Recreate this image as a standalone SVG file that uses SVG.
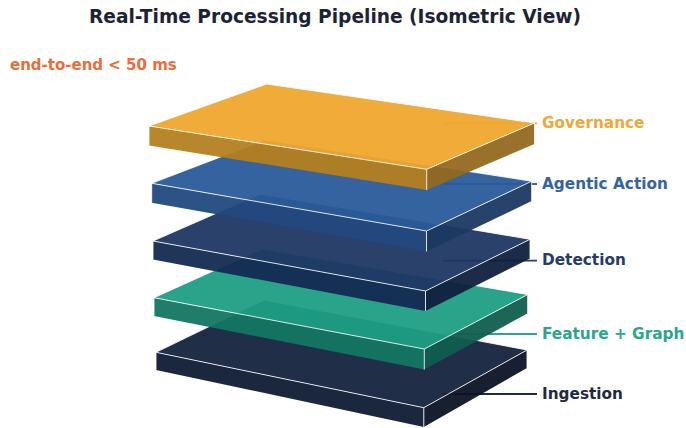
<svg xmlns="http://www.w3.org/2000/svg" width="686" height="428" viewBox="0 0 686 428">
  <style>
    .title { font-family: "DejaVu Sans", "Liberation Sans", sans-serif; font-weight: bold; font-size: 18.6px; fill: #1c2333; }
    .note { font-family: "DejaVu Sans", "Liberation Sans", sans-serif; font-weight: bold; font-size: 15px; fill: #ec6c3b; }
    .lbl { font-family: "DejaVu Sans", "Liberation Sans", sans-serif; font-weight: bold; font-size: 15.3px; }
    .face { fill-opacity: 0.95; stroke: none; }
    .edge { fill: none; stroke: #ffffff; stroke-width: 1; stroke-opacity: 0.85; stroke-linejoin: round; }
    .lead { fill: none; stroke-width: 1.8; }
  </style>

  <rect width="686" height="428" fill="#ffffff"/>

  <text class="title" x="335" y="23" text-anchor="middle">Real-Time Processing Pipeline (Isometric View)</text>
  <text class="note" x="10" y="70">end-to-end &lt; 50 ms</text>

  <!-- leader lines from each layer to its label (drawn first, under the slabs) -->
  <g id="connectors">
    <line class="lead" x1="443" y1="123.3" x2="537" y2="123.3" stroke="#f0a838"/>
    <line class="lead" x1="443" y1="184" x2="537" y2="184" stroke="#3563a0"/>
    <line class="lead" x1="443" y1="260.7" x2="537" y2="260.7" stroke="#263c66"/>
    <line class="lead" x1="443" y1="334" x2="537" y2="334" stroke="#2ba58c"/>
    <line class="lead" x1="443" y1="394" x2="537" y2="394" stroke="#1f2a40"/>
  </g>

  <!-- slabs, bottom layer first so upper slabs overlap lower ones -->
  <g id="ingestion">
    <path class="face" fill="#0f1b31" d="M156,352.3 L423.8,407.7 L423.8,427 L156,370 Z"/>
    <path class="face" fill="#0b1325" d="M423.8,407.7 L527,350 L527,368 L423.8,427 Z"/>
    <path class="face" fill="#14233d" d="M156,352.3 L264,300 L527,350 L423.8,407.7 Z"/>
    <path class="edge" d="M156,352.3 L264,300 L527,350 L423.8,407.7 Z M156,352.3 L156,370 M423.8,407.7 L423.8,427 M527,350 L527,368"/>
    <text class="lbl" x="542" y="398.5" fill="#1f2a40">Ingestion</text>
  </g>

  <g id="feature-graph">
    <path class="face" fill="#137662" d="M154,297.7 L424.3,349 L424.3,369.5 L154,316 Z"/>
    <path class="face" fill="#105e4e" d="M424.3,349 L527.7,294.5 L527.7,313.3 L424.3,369.5 Z"/>
    <path class="face" fill="#1d9f85" d="M154,297.7 L262,249 L527.7,294.5 L424.3,349 Z"/>
    <path class="edge" d="M154,297.7 L262,249 L527.7,294.5 L424.3,349 Z M154,297.7 L154,316 M424.3,349 L424.3,369.5 M527.7,294.5 L527.7,313.3"/>
    <text class="lbl" x="542" y="338.5" fill="#2ba58c">Feature + Graph</text>
  </g>

  <g id="detection">
    <path class="face" fill="#132a51" d="M153,241 L425.5,291 L425.5,311 L153,259.5 Z"/>
    <path class="face" fill="#0f203e" d="M425.5,291 L530,239.3 L530,258.5 L425.5,311 Z"/>
    <path class="face" fill="#1e3763" d="M153,241 L260.3,194 L530,239.3 L425.5,291 Z"/>
    <path class="edge" d="M153,241 L260.3,194 L530,239.3 L425.5,291 Z M153,241 L153,259.5 M425.5,291 L425.5,311 M530,239.3 L530,258.5"/>
    <text class="lbl" x="542" y="265" fill="#263c66">Detection</text>
  </g>

  <g id="agentic-action">
    <path class="face" fill="#22497f" d="M151.7,183.3 L426.5,231 L426.5,251.5 L151.7,202.7 Z"/>
    <path class="face" fill="#1b3962" d="M426.5,231 L531.7,181.2 L531.7,201 L426.5,251.5 Z"/>
    <path class="face" fill="#2a5b9b" d="M151.7,183.3 L265,140 L531.7,181.2 L426.5,231 Z"/>
    <path class="edge" d="M151.7,183.3 L265,140 L531.7,181.2 L426.5,231 Z M151.7,183.3 L151.7,202.7 M426.5,231 L426.5,251.5 M531.7,181.2 L531.7,201"/>
    <text class="lbl" x="542" y="188.5" fill="#3563a0">Agentic Action</text>
  </g>

  <g id="governance">
    <path class="face" fill="#b48020" d="M149,126 L426.7,169.3 L426.7,190 L149,145.5 Z"/>
    <path class="face" fill="#93691f" d="M426.7,169.3 L534.5,123 L534.5,144 L426.7,190 Z"/>
    <path class="face" fill="#efa62e" d="M149,126 L266.7,84 L534.5,123 L426.7,169.3 Z"/>
    <path class="edge" d="M149,126 L266.7,84 L534.5,123 L426.7,169.3 Z M149,126 L149,145.5 M426.7,169.3 L426.7,190 M534.5,123 L534.5,144"/>
    <text class="lbl" x="542" y="128" fill="#f0a838">Governance</text>
  </g>
</svg>
